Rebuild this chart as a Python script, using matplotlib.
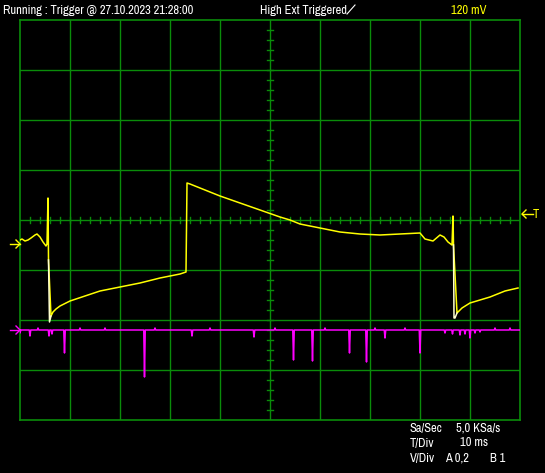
import numpy as np
import matplotlib
matplotlib.use("Agg")
import matplotlib.pyplot as plt
from matplotlib import font_manager

# channel A (yellow) : time in ms, level in divisions
t_a = [0, 0.4, 1.0, 1.6, 2.2, 3.0, 3.4, 4.0, 4.6, 5.2, 5.4, 5.6, 5.7,
       6.2, 6.6, 7.2, 8, 10, 13, 16, 20, 24, 28, 32, 33.2, 33.3, 33.4,
       34, 36, 40, 44, 48, 52, 54, 56, 60, 64, 68, 72, 76, 80, 81, 82.6,
       84, 84.8, 85.6, 86.4, 86.6, 86.7,
       87.4, 88.4, 90, 92, 94, 97, 99.6]
v_a = [-0.40, -0.38, -0.42, -0.40, -0.36, -0.30, -0.28, -0.34, -0.44, -0.52, -0.48, 0.44, -0.80,
       -1.92, -1.84, -1.78, -1.72, -1.62, -1.52, -1.42, -1.34, -1.26, -1.16, -1.08, -1.04, -0.16, 0.74,
       0.72, 0.64, 0.48, 0.34, 0.20, 0.06, 0.0, -0.08, -0.16, -0.24, -0.28, -0.30, -0.28, -0.26, -0.38, -0.42,
       -0.30, -0.34, -0.44, -0.50, 0.08, -0.50,
       -1.86, -1.76, -1.66, -1.60, -1.54, -1.42, -1.36]

# falling edges drawn lighter
edges = [([5.7, 5.9, 6.2], [-0.80, -2.04, -1.92]),
         ([86.7, 86.8, 87.0, 87.4], [-0.50, -1.96, -1.96, -1.86])]

# channel B (magenta) : baseline and glitches
b_base = -2.2
b_spike_t = [0, 2, 3.6, 5.8, 6.4, 8.9, 12, 17, 24.9, 27, 34.4, 38, 46.8, 51, 54.7, 58.5, 61,
             65.9, 69.3, 71, 73, 77, 80, 85, 86.5, 88, 89, 90, 91, 92, 95, 98]
b_spike_v = [-2.26, -2.32, -2.16, -2.32, -2.28, -2.66, -2.16, -2.16, -3.14, -2.16, -2.32, -2.16, -2.34, -2.16,
             -2.80, -2.82, -2.16, -2.66, -2.84, -2.16, -2.36, -2.16, -2.66, -2.26, -2.28, -2.30, -2.28,
             -2.36, -2.26, -2.24, -2.16, -2.16]

green = "#0a8c0a"
W, H = 545, 473

try:
    font_manager.findfont("Archivo Narrow", fallback_to_default=False)
    family, fs = "Archivo Narrow", 9.0
except Exception:
    family, fs = "Liberation Sans", 7.6

fig = plt.figure(figsize=(5.45, 4.73), dpi=100, facecolor="black")
ax = fig.add_axes([20 / W, 53 / H, 500 / W, 400 / H])
ax.set_facecolor("black")
ax.set_xlim(0, 100)
ax.set_ylim(-4, 4)
ax.set_xticks([])
ax.set_yticks([])
for s in ax.spines.values():
    s.set_color(green)
    s.set_linewidth(1.2)

# graticule
for x in range(10, 100, 10):
    ax.axvline(x, color=green, lw=1.0, zorder=1)
for y in range(-3, 4):
    ax.axhline(y, color=green, lw=1.0, zorder=1)
# small ticks on centre lines
for x in np.arange(2, 100, 2):
    ax.plot([x, x], [-0.06, 0.06], color=green, lw=1.0, zorder=1)
for y in np.arange(-3.8, 4, 0.2):
    ax.plot([49.4, 50.6], [y, y], color=green, lw=1.0, zorder=1)

# channel B trace
tb, vb = [0], [b_base]
for t, v in zip(b_spike_t, b_spike_v):
    tb += [t - 0.15, t, t + 0.15]
    vb += [b_base, v, b_base]
tb.append(100)
vb.append(b_base)
ax.plot(tb, vb, color="#ff00ff", lw=1.1, zorder=3)

# channel A trace
ax.plot(t_a, v_a, color="#ffff00", lw=1.1, zorder=4)
for et, ev in edges:
    ax.plot(et, ev, color="#ffffd0", lw=1.1, zorder=4)


def pline(xs, ys, color, lw=1.0):
    # line in pixel coordinates of the figure
    fig.add_artist(plt.Line2D([x / W for x in xs], [1 - y / H for y in ys], color=color, lw=lw))


# level markers
for y, c in [(244, "#ffff00"), (330, "#ff00ff")]:
    pline([10, 20], [y, y], c)
    pline([16, 20, 16], [y - 4, y, y + 4], c)
pline([522, 533], [214, 214], "#ffff00")
pline([526, 522, 526], [210, 214, 218], "#ffff00")
fnt = dict(family=family, fontsize=fs)
fig.text(533 / W, 1 - 214 / H, "T", color="#ffff00", va="center", ha="left", **fnt)

# header
fig.text(3 / W, 1 - 10 / H, "Running : Trigger @ 27.10.2023 21:28:00", color="white", va="center", **fnt)
fig.text(260 / W, 1 - 10 / H, "High Ext Triggered", color="white", va="center", **fnt)
pline([347, 355], [14, 5], "white", 0.8)
fig.text(451 / W, 1 - 10 / H, "120 mV", color="#ffff00", va="center", **fnt)

# footer
rows = [(428, [(410, "Sa/Sec"), (456, "5,0 KSa/s")]),
        (443, [(410, "T/Div"), (460, "10 ms")]),
        (458, [(410, "V/Div"), (445, "A 0,2"), (490, "B 1")])]
for y, items in rows:
    for x, s in items:
        fig.text(x / W, 1 - y / H, s, color="white", va="center", **fnt)

fig.savefig("out.png", dpi=100, facecolor="black")
